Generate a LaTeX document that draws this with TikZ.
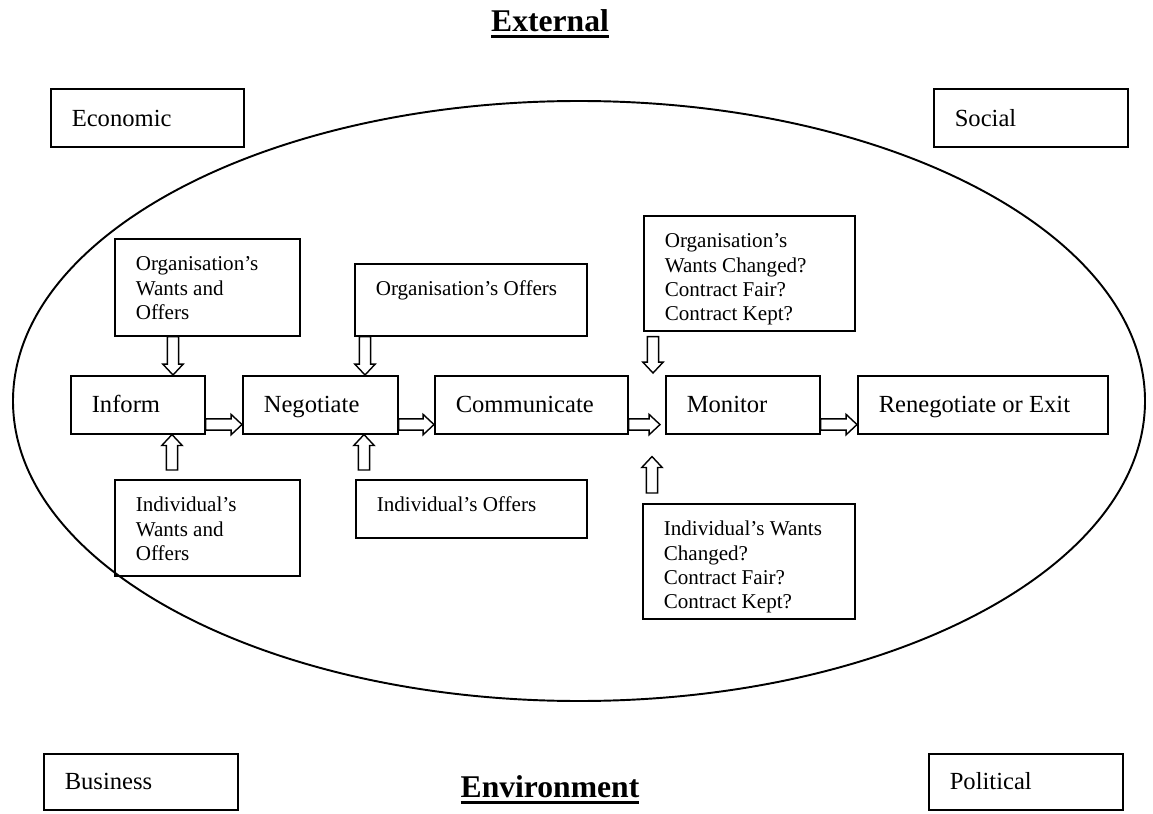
\documentclass[tikz,border=0pt]{standalone}
\usepackage{fontspec}
\setmainfont{Liberation Serif}
\usetikzlibrary{calc}

\newcommand{\heavyul}[1]{\setbox0\hbox{#1}\rlap{\rule[-3.5pt]{\wd0}{1.6pt}}\box0}

\begin{document}
\begin{tikzpicture}[x=0.02cm, y=-0.02cm,
    box/.style={draw, line width=0.9pt, anchor=north west, align=flush left, inner xsep=0.42cm, inner ysep=0pt},
    stage/.style={box, font=\fontsize{14}{17}\selectfont, text height=0.73cm, text depth=0.43cm},
    factor/.style={box, font=\fontsize{14}{17}\selectfont},
    note/.style={box, font=\fontsize{12}{13.8}\selectfont, text height=0.64cm},
    heading/.style={font=\bfseries\fontsize{18}{22}\selectfont},
    blockarr/.style={line width=0.8pt, to path={
        let \p1=(\tikztostart), \p2=(\tikztotarget),
            \n1={atan2(\y2-\y1,\x2-\x1)}, \n2={veclen(\x2-\x1,\y2-\y1)} in
        {[shift={(\p1)}, rotate=\n1]
         (0pt,3.2pt) -- (\n2-6.2pt,3.2pt) -- (\n2-6.2pt,5.8pt) -- (\n2+0pt,0pt)
         -- (\n2-6.2pt,-5.8pt) -- (\n2-6.2pt,-3.2pt) -- (0pt,-3.2pt) -- cycle}}}]
    \useasboundingbox (0,0) rectangle (1153,814);

    \node[heading] (ext) at (550,24) {\heavyul{External}};
    \node[heading] (env) at (550,790) {\heavyul{Environment}};

    \draw[line width=1.1pt] (579,401) ellipse [x radius=566, y radius=300];

    % environment factors
    \node[factor, text width=3.02cm, text height=0.76cm, text depth=0.4cm] (eco) at (50,88) {Economic};
    \node[factor, text width=3.04cm, text height=0.76cm, text depth=0.4cm] (soc) at (933,88) {Social};
    \node[factor, text width=3.04cm, text height=0.72cm, text depth=0.4cm] (bus) at (43,753) {Business};
    \node[factor, text width=3.04cm, text height=0.72cm, text depth=0.4cm] (pol) at (928,753) {Political};

    % contract stages
    \node[stage, text width=1.84cm] (inf) at (70,375) {Inform};
    \node[stage, text width=2.26cm] (neg) at (242,375) {Negotiate};
    \node[stage, text width=3.02cm] (com) at (434,375) {Communicate};
    \node[stage, text width=2.24cm] (mon) at (665,375) {Monitor};
    \node[stage, text width=4.16cm] (ren) at (857,375) {Renegotiate or Exit};

    \node[note, text width=2.86cm, text depth=1.3cm] (orgwo) at (114,238) {Organisation's\\Wants and\\Offers};
    \node[note, text width=3.8cm, text depth=0.8cm] (orgo) at (354,263) {Organisation's Offers};
    \node[note, text width=3.38cm, text depth=1.66cm] (orgwc) at (643,215) {Organisation's\\Wants Changed?\\Contract Fair?\\Contract Kept?};
    \node[note, text width=2.86cm, text depth=1.28cm] (indwo) at (114,479) {Individual's\\Wants and\\Offers};
    \node[note, text width=3.78cm, text depth=0.52cm] (indo) at (355,479) {Individual's Offers};
    \node[note, text width=3.4cm, text depth=1.66cm] (indwc) at (642,503) {Individual's Wants\\Changed?\\Contract Fair?\\Contract Kept?};

    \draw[blockarr] ($(inf.south east)+(0,-10)$) to ($(neg.south west)+(0,-10)$);
    \draw[blockarr] ($(neg.south east)+(0,-10)$) to ($(com.south west)+(0,-10)$);
    \draw[blockarr] ($(com.south east)+(0,-10)$) to ($(mon.south west)+(-5,-10)$);
    \draw[blockarr] ($(mon.south east)+(0,-10)$) to ($(ren.south west)+(0,-10)$);

    \coordinate (d1) at ($(inf.north west)+(103,0)$);
    \coordinate (u1) at ($(inf.south west)+(102,0)$);
    \coordinate (d2) at ($(neg.north west)+(123,0)$);
    \coordinate (u2) at ($(neg.south west)+(122,0)$);
    \coordinate (d3) at ($(mon.north west)+(-12,-2)$);
    \coordinate (u3) at ($(mon.south west)+(-13,22)$);
    \draw[blockarr] (orgwo.south -| d1) to (d1);
    \draw[blockarr] ($(indwo.north -| u1)+(0,-9)$) to (u1);
    \draw[blockarr] (orgo.south -| d2) to (d2);
    \draw[blockarr] ($(indo.north -| u2)+(0,-9)$) to (u2);
    \draw[blockarr] ($(orgwc.south -| d3)+(0,5)$) to (d3);
    \draw[blockarr] ($(indwc.north -| u3)+(0,-10)$) to (u3);
\end{tikzpicture}
\end{document}
